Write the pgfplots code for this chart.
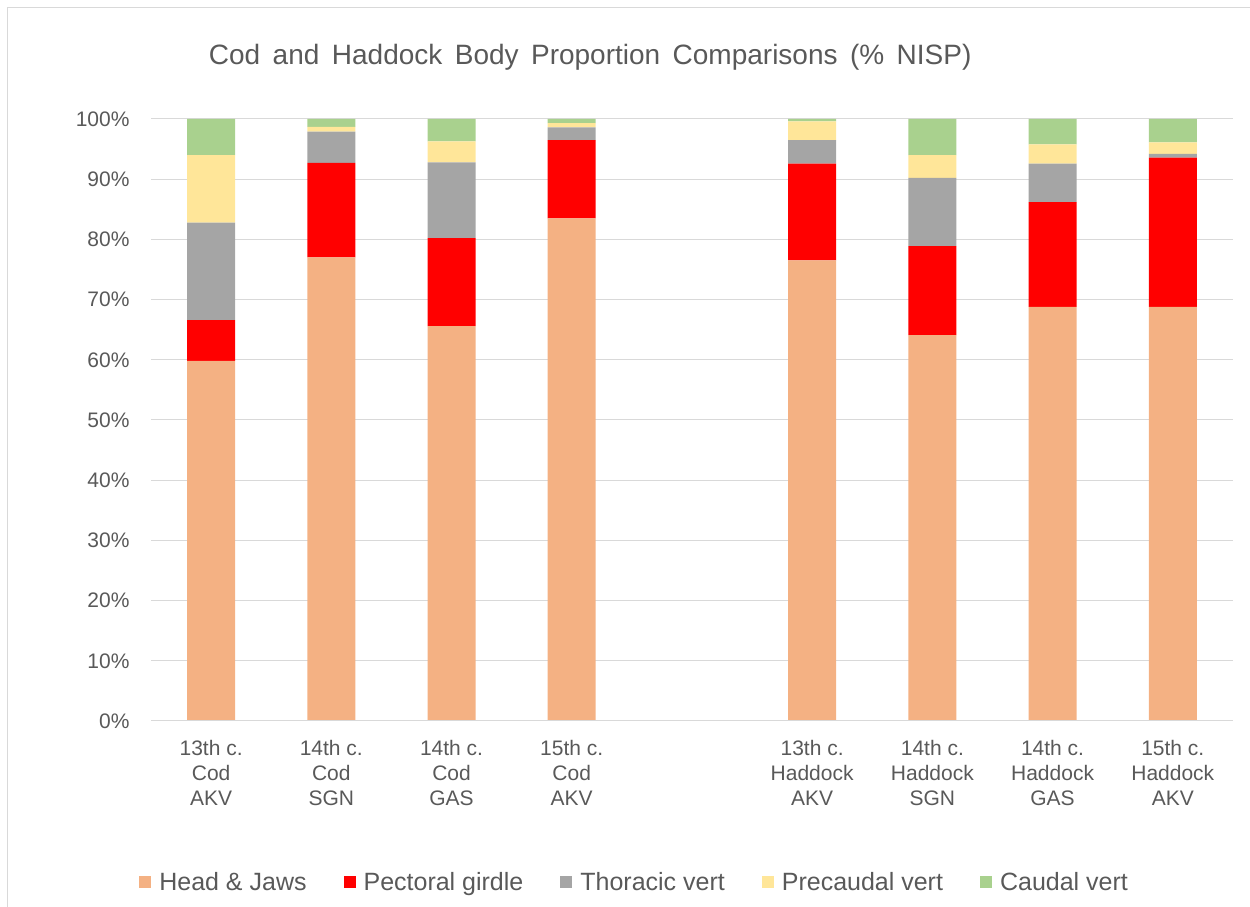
\documentclass[border=0pt]{standalone}
\usepackage{pgfplots}
\pgfplotsset{compat=1.18}
\usepackage{pgfplotstable}
\usepackage{fontspec}
\setmainfont{Liberation Sans}
\newfontfamily\titlefont[WordSpace=1.6]{Liberation Sans}
\definecolor{txt}{HTML}{595959}
\definecolor{gridc}{HTML}{D9D9D9}
\definecolor{headc}{HTML}{F4B183}
\definecolor{pectc}{HTML}{FF0000}
\definecolor{thorc}{HTML}{A5A5A5}
\definecolor{precc}{HTML}{FFE699}
\definecolor{caudc}{HTML}{A9D18E}

\pgfplotstableread{
x head pect thor prec caud
0 59.8 6.8 16.2 11.2 6.0
1 77.0 15.7 5.2 0.8 1.3
2 65.6 14.6 12.6 3.5 3.7
3 83.5 13.0 2.1 0.7 0.7
5 76.5 16.1 3.9 3.1 0.4
6 64.1 14.8 11.3 3.8 6.0
7 68.8 17.4 6.4 3.2 4.2
8 68.8 24.8 0.6 1.9 3.9
}\datatable

\begin{document}
\begin{tikzpicture}
\useasboundingbox (0,0) rectangle (1250pt,907pt);
\begin{scope}
\clip (0,0) rectangle (1250pt,907pt);
\draw[gridc, line width=1.5pt] (7.5pt,-20pt) -- (7.5pt,899.5pt) -- (1270pt,899.5pt);
\end{scope}
\begin{axis}[
  at={(151pt,186pt)}, anchor=south west,
  scale only axis, width=1082pt, height=602pt,
  ybar stacked, bar width=48pt,
  xmin=-0.5, xmax=8.5, ymin=0, ymax=100,
  axis line style={draw=none},
  extra description/.code={\draw[gridc, line width=1pt] (axis cs:-0.5,0) -- (axis cs:8.5,0);},
  ymajorgrids, grid style={gridc, line width=1pt},
  major tick length=0pt,
  ytick={0,10,...,100},
  yticklabels={0\%,10\%,20\%,30\%,40\%,50\%,60\%,70\%,80\%,90\%,100\%},
  yticklabel style={font=\fontsize{21}{25}\selectfont, text=txt, xshift=-18pt},
  xtick={0,1,2,3,5,6,7,8},
  xticklabels={
    {13th c.\\Cod\\AKV},{14th c.\\Cod\\SGN},{14th c.\\Cod\\GAS},{15th c.\\Cod\\AKV},
    {13th c.\\Haddock\\AKV},{14th c.\\Haddock\\SGN},{14th c.\\Haddock\\GAS},{15th c.\\Haddock\\AKV}},
  xticklabel style={font=\fontsize{21}{25}\selectfont, text=txt, align=center, yshift=-16pt},
  title={Cod and Haddock Body Proportion Comparisons (\% NISP)},
  title style={at={(axis description cs:0.406,1)}, anchor=center, yshift=56pt, font=\titlefont\fontsize{28}{32}\selectfont, text=txt},
  legend columns=-1,
  legend style={at={(axis description cs:0.447,-0.2674)}, anchor=center, draw=none, fill=none,
    font=\fontsize{25}{29}\selectfont, text=txt,
    /tikz/every even column/.append style={column sep=35pt},
    /tikz/every odd column/.append style={column sep=6pt}},
  legend image code/.code={\path[#1, draw=none] (0pt,-6pt) rectangle (12pt,6pt);},
]
\addplot[fill=headc, draw=none] table[x=x, y=head] {\datatable};
\addplot[fill=pectc, draw=none] table[x=x, y=pect] {\datatable};
\addplot[fill=thorc, draw=none] table[x=x, y=thor] {\datatable};
\addplot[fill=precc, draw=none] table[x=x, y=prec] {\datatable};
\addplot[fill=caudc, draw=none] table[x=x, y=caud] {\datatable};
\legend{Head \& Jaws, Pectoral girdle, Thoracic vert, Precaudal vert, Caudal vert}
\end{axis}
\end{tikzpicture}
\end{document}
